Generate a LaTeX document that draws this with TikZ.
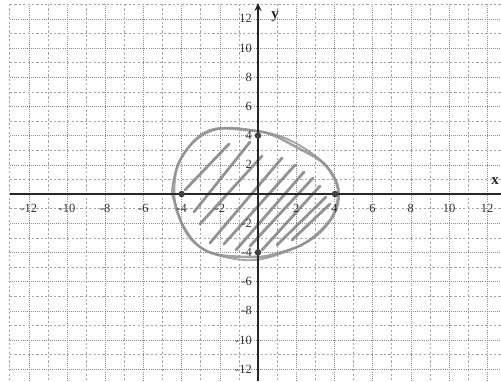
\documentclass[tikz,border=0pt]{standalone}
\usepackage{fontspec}
\setmainfont{Liberation Serif}
\usetikzlibrary{arrows.meta}
\begin{document}
\begin{tikzpicture}[x=1pt,y=-1pt,
  gridmaj/.style={black!45, line width=0.6pt, dash pattern=on 0.8pt off 1.3pt},
  gridmin/.style={black!35, line width=0.6pt, dash pattern=on 2.2pt off 2.2pt},
  axisline/.style={black!85, line width=1.7pt},
  ticklab/.style={font=\fontsize{12.5}{12.5}\selectfont, text=black!80, inner sep=0pt},
  axlab/.style={font=\fontsize{15}{15}\selectfont\bfseries, text=black!85, inner sep=0pt},
  outline/.style={black!45, line width=2.6pt, opacity=0.8},
  hatch/.style={black!50, line width=2.8pt, line cap=round, opacity=0.85},
  dotmark/.style={circle, fill=black!75, inner sep=0pt, minimum size=6.5pt}]
\useasboundingbox (0,0) rectangle (501,381);
\clip (0,0) rectangle (501,381);
% vertical grid
\foreach \i in {-13,...,12} {
  \pgfmathsetmacro\px{258+19.1*\i}
  \ifodd\i
    \draw[gridmin] (\px,4) -- (\px,381);
  \else
    \draw[gridmaj] (\px,4) -- (\px,381);
  \fi
}
% horizontal grid
\foreach \j in {-12,...,13} {
  \pgfmathsetmacro\py{194-14.6*\j}
  \ifodd\j
    \draw[gridmin] (10,\py) -- (501,\py);
  \else
    \draw[gridmaj] (10,\py) -- (501,\py);
  \fi
}
% region outline (hand drawn)
\draw[outline] plot[smooth cycle, tension=0.6] coordinates {(174,194) (178,165) (195,140) (215,129) (245,130) (270,134) (298,148) (322,162) (335,180) (338,197) (330,220) (305,243) (275,254) (255,257) (215,254) (192,240) (179,217)};
\draw[outline, line width=1.8pt] plot[smooth cycle, tension=0.6] coordinates {(172,190) (180,160) (200,137) (225,128) (258,131) (285,138) (310,152) (330,170) (339,192) (334,215) (315,237) (285,252) (255,260) (225,257) (200,247) (183,225) (176,205)};
% hatching
\draw[hatch] (185,190) -- (229,144);
\draw[hatch] (194,212) -- (250,142);
\draw[hatch] (200,224) -- (262,156);
\draw[hatch] (210,243) -- (282,158);
\draw[hatch] (224,244) -- (295,165);
\draw[hatch] (236,250) -- (304,172);
\draw[hatch] (250,246) -- (313,178);
\draw[hatch] (262,250) -- (320,186);
\draw[hatch] (277,245) -- (326,197);
\draw[hatch] (292,240) -- (330,204);
% axes
\draw[axisline] (10,194) -- (501,194);
\draw[axisline, -{Stealth[length=8pt,width=7pt]}] (258,381) -- (258,3);
\node[axlab] (ylab) at (275,17) {y};
\node[axlab] (xlab) at (495,181) {x};
% tick labels
\foreach \i in {-12,-10,-8,-6,-4,-2,2,4,6,8,10,12} {
  \pgfmathsetmacro\px{258+19.1*\i}
  \node[ticklab] (xt\i) at (\px,208) {\i};
  \pgfmathsetmacro\py{194-14.6*\i}
  \node[ticklab, anchor=east] (yt\i) at (252,\py) {\i};
}
% intercept points
\node[dotmark] (pl) at (181.6,194) {};
\node[dotmark] (pr) at (335,194) {};
\node[dotmark] (pt) at (258,135.6) {};
\node[dotmark] (pb) at (258,252.4) {};
\end{tikzpicture}
\end{document}
